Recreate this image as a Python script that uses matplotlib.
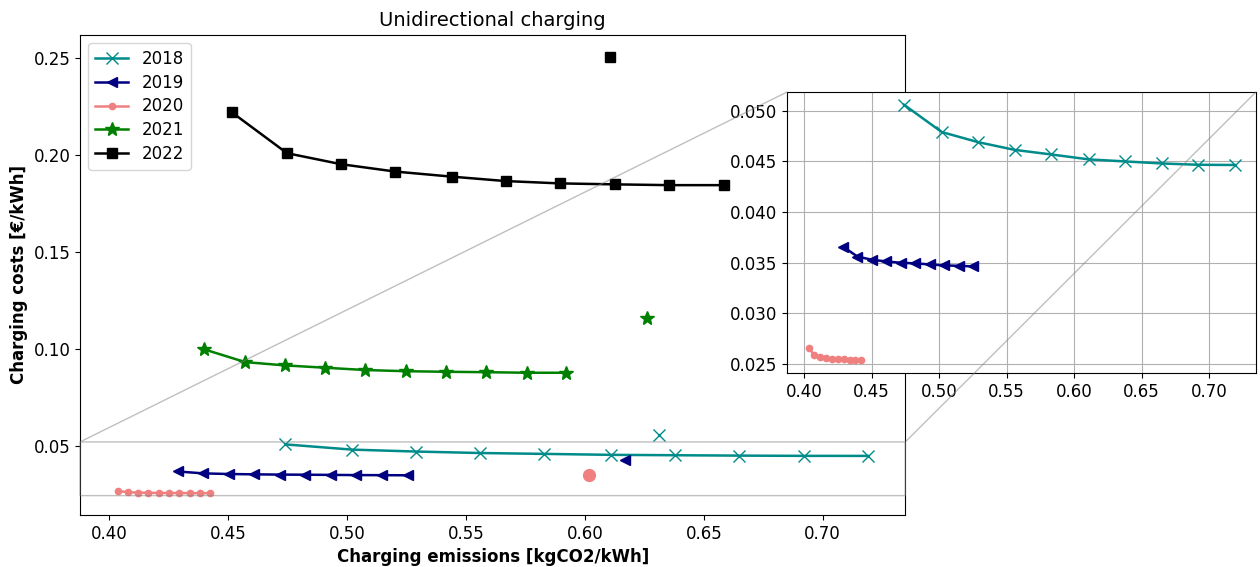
import matplotlib
matplotlib.use('Agg')
import matplotlib.pyplot as plt

plt.rcParams['font.size'] = 12

years = ['2018', '2019', '2020', '2021', '2022']
colors = ['darkcyan', 'navy', 'lightcoral', 'green', 'black']
markers = ['x', '<', '.', '*', 's']
marker_sizes = [8.5, 7.5, 9, 10.5, 7.5]

# charging emissions [kgCO2/kWh] per year
emis_2018 = [0.474, 0.502, 0.529, 0.556, 0.583, 0.611, 0.638, 0.665, 0.692, 0.719]
emis_2019 = [0.4288, 0.4395, 0.4502, 0.4609, 0.4717, 0.4824, 0.4932, 0.5039, 0.5147, 0.5254]
emis_2020 = [0.4034, 0.4077, 0.4120, 0.4164, 0.4207, 0.4250, 0.4293, 0.4337, 0.4380, 0.4423]
emis_2021 = [0.4398, 0.4571, 0.4738, 0.4907, 0.5077, 0.5246, 0.5415, 0.5583, 0.5755, 0.5921]
emis_2022 = [0.4515, 0.4747, 0.4975, 0.5203, 0.5439, 0.5667, 0.5895, 0.6127, 0.6354, 0.6586]

# charging costs [EUR/kWh] per year
cost_2018 = [0.0506, 0.0479, 0.0469, 0.04614, 0.04569, 0.0452, 0.0450, 0.0448, 0.04467, 0.04465]
cost_2019 = [0.0366, 0.03562, 0.0353, 0.03513, 0.0350, 0.03494, 0.03484, 0.03474, 0.0347, 0.03464]
cost_2020 = [0.02663, 0.02588, 0.02572, 0.02559, 0.02552, 0.02549, 0.02546, 0.02543, 0.02542, 0.0254]
cost_2021 = [0.0997, 0.0931, 0.0914, 0.0902, 0.0890, 0.0884, 0.0881, 0.0879, 0.0876, 0.0876]
cost_2022 = [0.2221, 0.2010, 0.1953, 0.1915, 0.1889, 0.1866, 0.1854, 0.1849, 0.1845, 0.1845]

# single reference points per year
single_emis = [0.631, 0.6167, 0.6016, 0.6262, 0.6107]
single_cost = [0.0556, 0.0426, 0.0348, 0.1161, 0.2509]

emissions = [emis_2018, emis_2019, emis_2020, emis_2021, emis_2022]
costs = [cost_2018, cost_2019, cost_2020, cost_2021, cost_2022]

fig = plt.figure(figsize=(12.6, 5.67), dpi=100)
ax = fig.add_axes([0.0635, 0.0917, 0.655, 0.847])

for i in range(len(years)):
    ax.plot(emissions[i], costs[i], color=colors[i], marker=markers[i],
            markersize=marker_sizes[i], linewidth=1.8, label=years[i])
    single_marker = 'o' if markers[i] == '.' else markers[i]
    single_size = 8.5 if markers[i] == '.' else marker_sizes[i]
    ax.plot([single_emis[i]], [single_cost[i]], color=colors[i], marker=single_marker,
            markersize=single_size, linestyle='none')

ax.set_title('Unidirectional charging', fontsize=14)
ax.set_xlabel('Charging emissions [kgCO2/kWh]', fontweight='bold')
ax.set_ylabel('Charging costs [€/kWh]', fontweight='bold')
ax.legend(loc='upper left', labelspacing=0.35)

# zoomed view of the low cost years
axins = ax.inset_axes([0.857, 0.296, 0.568, 0.585])
for i in range(3):
    axins.plot(emissions[i], costs[i], color=colors[i], marker=markers[i],
               markersize=marker_sizes[i], linewidth=1.8)
axins.grid(True)

ind = ax.indicate_inset_zoom(axins)
ind.set_zorder(6)
conn = ind.connectors
conn[0].set_visible(False)
conn[1].set_visible(True)
conn[2].set_visible(False)
conn[3].set_visible(True)

fig.savefig('out.png', dpi=100)
